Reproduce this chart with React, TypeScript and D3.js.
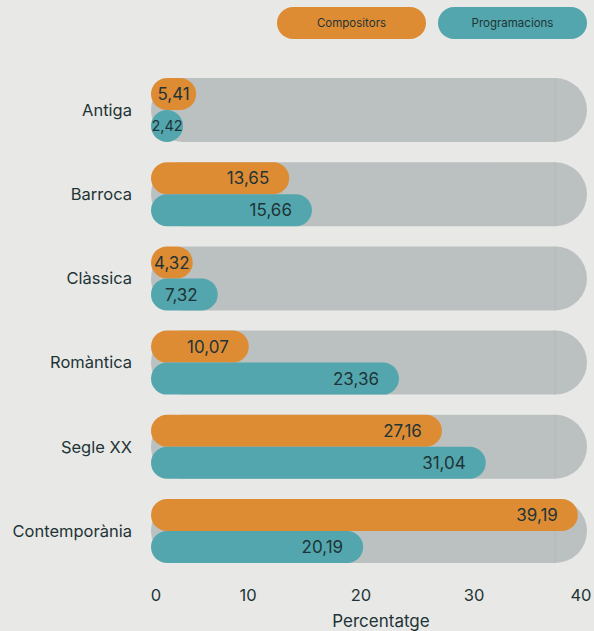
import React from "react";
import * as d3 from "d3";

const categories = ["Antiga", "Barroca", "Clàssica", "Romàntica", "Segle XX", "Contemporània"];
const compositors = [5.41, 13.65, 4.32, 10.07, 27.16, 39.19];
const programacions = [2.42, 15.66, 7.32, 23.36, 31.04, 20.19];
const seriesNames = ["Compositors", "Programacions"];
const xTicks = [0, 10, 20, 30, 40];
const axisTitle = "Percentatge";

const W = 594;
const H = 631;
const BG = "#e8e8e6";
const TRACK = "#bbc1c0";
const COLORS = ["#de8c34", "#53a6ad"];
const TEXT = "#1e3436";
const FONT = "Inter, 'Noto Sans', sans-serif";

const canvas = typeof document !== "undefined" ? document.createElement("canvas") : null;
function textWidth(s: string, size: number) {
  const ctx = canvas && canvas.getContext("2d");
  if (!ctx) return s.length * size * 0.6;
  ctx.font = `${size}px Inter`;
  return ctx.measureText(s).width;
}
const fmt = (v: number) => v.toFixed(2).replace(".", ",");

export default function App() {
  const x = d3.scaleLinear().domain([0, 40]).range([135, 587]);
  const y = d3.scaleBand<string>().domain(categories).range([78, 563]).paddingInner(0.24).paddingOuter(0);
  const barLeft = 151;
  const bw = y.bandwidth();
  const bh = bw / 2;
  const series = [compositors, programacions];

  return (
    <>
      <style>{`body{margin:0;background:${BG};}`}</style>
      <svg width={W} height={H} style={{ display: "block", background: BG, fontFamily: FONT }}>
        {/* Legend */}
        {seriesNames.map((name, i) => {
          const lx = [277, 438][i];
          const lw = 149;
          return (
            <g key={name}>
              <rect x={lx} y={7} width={lw} height={32} rx={16} fill={COLORS[i]} />
              <text x={lx + lw / 2} y={23} dy="0.35em" textAnchor="middle" fontSize={11.5} fill={TEXT}>
                {name}
              </text>
            </g>
          );
        })}

        {categories.map((c, ci) => {
          const y0 = y(c)!;
          const trackRight = x(40);
          return (
            <g key={c}>
              <text x={132} y={y0 + bw / 2} dy="0.35em" textAnchor="end" fontSize={16.5} fill={TEXT}>
                {c}
              </text>
              <rect x={barLeft} y={y0} width={trackRight - barLeft} height={bw} rx={bw / 2} fill={TRACK} />
              <line x1={trackRight - bw / 2} x2={trackRight - bw / 2} y1={y0} y2={y0 + bw} stroke="#b3b9b8" strokeWidth={1} />
              {series.map((vals, si) => {
                const v = vals[ci];
                const label = fmt(v);
                const by = y0 + si * bh;
                let end = x(v);
                let fs = 17;
                let tw = textWidth(label, fs);
                let anchorCenter = false;
                if (end - barLeft < bh) {
                  end = barLeft + bh;
                  fs = 14.5;
                  tw = textWidth(label, fs);
                  anchorCenter = true;
                } else if (end - barLeft < tw + 24) {
                  end = Math.max(end, barLeft + tw + 6);
                  anchorCenter = true;
                }
                const width = end - barLeft;
                return (
                  <g key={si}>
                    <rect x={barLeft} y={by} width={width} height={bh} rx={bh / 2} fill={COLORS[si]} />
                    <text
                      x={anchorCenter ? barLeft + width / 2 : end - 20}
                      y={by + bh / 2}
                      dy="0.36em"
                      textAnchor={anchorCenter ? "middle" : "end"}
                      fontSize={fs}
                      fill={TEXT}
                    >
                      {label}
                    </text>
                  </g>
                );
              })}
            </g>
          );
        })}

        {xTicks.map((t) => (
          <text
            key={t}
            x={Math.min(Math.max(x(t), barLeft + 5), W - 13)}
            y={601}
            textAnchor="middle"
            fontSize={16.5}
            fill={TEXT}
          >
            {t}
          </text>
        ))}
        <text x={381} y={627} textAnchor="middle" fontSize={17} fill={TEXT}>
          {axisTitle}
        </text>
      </svg>
    </>
  );
}
